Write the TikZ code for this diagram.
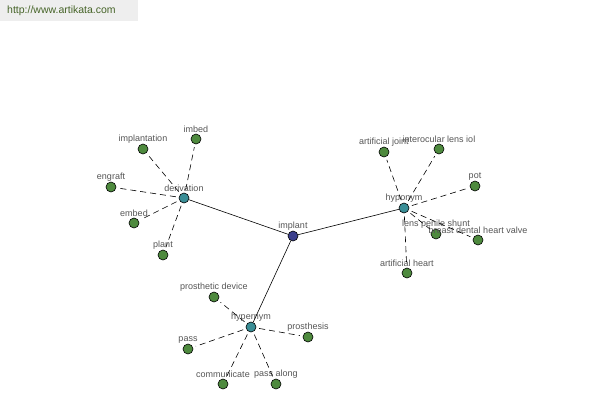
\documentclass[tikz,border=0pt]{standalone}
\usepackage{fontspec}
\setmainfont{Liberation Sans}
\usetikzlibrary{positioning}
\definecolor{leafgreen}{RGB}{78, 138, 62}
\definecolor{hubteal}{RGB}{58, 142, 150}
\definecolor{rootblue}{RGB}{58, 62, 140}
\definecolor{labelgray}{RGB}{85, 85, 85}
\definecolor{urlgreen}{RGB}{70, 100, 40}
\definecolor{urlback}{RGB}{238, 238, 238}

\begin{document}
\begin{tikzpicture}[
    x=1pt, y=-1pt,
    dot/.style={circle, draw, line width=0.6pt, minimum size=10pt, inner sep=0pt, label distance=0pt},
    leaf/.style={dot, fill=leafgreen},
    hub/.style={dot, fill=hubteal},
    root/.style={dot, fill=rootblue},
    lbl/.style={font=\fontsize{9}{10}\selectfont, text=labelgray, inner sep=0.5pt},
    rel/.style={line width=0.6pt},
    sub/.style={line width=0.6pt, dash pattern=on 6pt off 4pt, shorten <=3pt, shorten >=3pt}
]
\useasboundingbox (0,0) rectangle (600,400);
\fill[urlback] (0,0) rectangle (138,21);
\node[anchor=west, text=urlgreen, font=\fontsize{10.5}{12}\selectfont, inner sep=0pt] (url) at (7,11) {http://www.artikata.com};

% centre and the three relation hubs
\node[root, label={[lbl]above:implant}] (implant) at (293,236) {};
\node[hub, label={[lbl]above:derivation}] (derivation) at (184,198) {};
\node[hub, label={[lbl]above:hyponym}] (hyponym) at (404,208) {};
\node[hub, label={[lbl]above:hypernym}] (hypernym) at (251,327) {};

% derivation
\node[leaf, label={[lbl]above:implantation}] (implantation) at (143,149) {};
\node[leaf, label={[lbl]above:imbed}] (imbed) at (196,139) {};
\node[leaf, label={[lbl]above:engraft}] (engraft) at (111,187) {};
\node[leaf, label={[lbl]above:embed}] (embed) at (134,223) {};
\node[leaf, label={[lbl]above:plant}] (plant) at (163,255) {};

% hyponym
\node[leaf, label={[lbl]above:artificial joint}] (joint) at (384,152) {};
\node[leaf, label={[lbl]above:interocular lens iol}] (iol) at (439,149) {};
\node[leaf, label={[lbl]above:pot}] (pot) at (475,186) {};
\node[leaf, label={[lbl]above:lens penile shunt}] (shunt) at (436,234) {};
\node[leaf, label={[lbl]above:breast dental heart valve}] (valve) at (478,240) {};
\node[leaf, label={[lbl]above:artificial heart}] (heart) at (407,273) {};

% hypernym
\node[leaf, label={[lbl]above:prosthetic device}] (device) at (214,297) {};
\node[leaf, label={[lbl]above:prosthesis}] (prosthesis) at (308,337) {};
\node[leaf, label={[lbl]above:pass}] (pass) at (188,349) {};
\node[leaf, label={[lbl]above:communicate}] (communicate) at (223,384) {};
\node[leaf, label={[lbl]above:pass along}] (passalong) at (276,384) {};

\draw[rel] (implant) -- (derivation);
\draw[rel] (implant) -- (hyponym);
\draw[rel] (implant) -- (hypernym);

\foreach \n in {implantation, imbed, engraft, embed, plant}
    \draw[sub] (derivation) -- (\n);
\foreach \n in {joint, iol, pot, shunt, valve, heart}
    \draw[sub] (hyponym) -- (\n);
\foreach \n in {device, prosthesis, pass, communicate, passalong}
    \draw[sub] (hypernym) -- (\n);
\end{tikzpicture}
\end{document}
